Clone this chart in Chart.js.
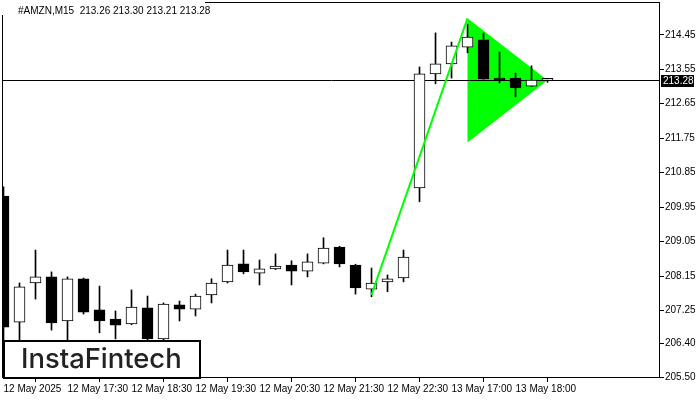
<!DOCTYPE html>
<html>
<head>
<meta charset="utf-8">
<script src="https://cdn.jsdelivr.net/npm/chart.js@4.4.1/dist/chart.umd.min.js"></script>
<style>
  html, body { margin: 0; padding: 0; background: #fff; }
</style>
</head>
<body>
<canvas id="chart" width="700" height="400"></canvas>
<script>
// header
var symbolTitle = '#AMZN,M15  213.26 213.30 213.21 213.28';

// time axis labels, one every 4 bars
var timeLabels = ['12 May 2025', '12 May 17:30', '12 May 18:30', '12 May 19:30', '12 May 20:30',
    '12 May 21:30', '12 May 22:30', '13 May 17:00', '13 May 18:00'];

// price axis ticks
var priceTicks = [205.50, 206.40, 207.25, 208.15, 209.05, 209.95, 210.85, 211.75, 212.65, 213.55, 214.45];

// M15 candles
var opens = [210.24, 206.95, 207.97, 208.13, 206.98, 208.08, 207.27, 207.03, 206.90, 207.32,
    206.51, 207.40, 207.29, 207.66, 208.00, 208.47, 208.23, 208.34, 208.44, 208.28,
    208.49, 208.91, 208.44, 207.81, 208.00, 208.10, 210.45, 213.43, 213.69, 214.13,
    214.32, 213.28, 213.32, 213.11, 213.26];
var highs = [210.48, 207.97, 208.83, 208.26, 208.13, 208.10, 207.89, 207.24, 207.79, 207.63,
    207.45, 207.50, 207.68, 208.08, 208.83, 208.83, 208.57, 208.73, 208.55, 208.73,
    209.15, 208.93, 208.46, 208.36, 208.18, 208.83, 213.61, 214.50, 214.26, 214.73,
    214.50, 214.00, 213.45, 213.64, 213.30];
var lows = [206.25, 206.35, 207.55, 206.74, 206.35, 207.16, 206.67, 206.51, 206.88, 206.35,
    206.35, 206.98, 207.11, 207.45, 207.97, 208.21, 207.92, 208.32, 207.92, 208.13,
    208.47, 208.39, 207.68, 207.61, 207.74, 208.00, 210.09, 213.17, 213.32, 213.98,
    213.29, 213.19, 212.83, 213.10, 213.21];
var closes = [206.82, 207.87, 208.13, 206.93, 208.08, 207.21, 206.98, 206.87, 207.34, 206.51,
    207.42, 207.29, 207.63, 207.97, 208.44, 208.26, 208.34, 208.41, 208.28, 208.52,
    208.88, 208.47, 207.84, 207.97, 208.08, 208.65, 213.43, 213.69, 214.16, 214.39,
    213.30, 213.27, 213.06, 213.27, 213.28];

// bullish pennant: pole and flag (bar index, price)
var poleBars = [23, 29];
var polePrices = [207.66, 214.88];
var flagBars = [29, 34, 29, 29];
var flagPrices = [214.88, 213.26, 211.64, 214.88];

var lastPrice = closes[closes.length - 1];

var bars = opens.map(function (o, i) { return i; });

var wickData = bars.map(function (i) { return { x: i, y: [lows[i], highs[i]] }; });
var bodyData = bars.map(function (i) { return { x: i, y: [opens[i], closes[i]] }; });
var bodyColors = bars.map(function (i) { return closes[i] >= opens[i] ? '#ffffff' : '#000000'; });

var FONT = 'Liberation Sans, Arial, sans-serif';

var mtPlugin = {
    id: 'mt',
    afterDatasetDraw: function (chart, args) {
        // price line sits above the flag but under the candles
        if (args.index !== 3) return;
        var ctx = chart.ctx, a = chart.chartArea;
        var py = Math.round(chart.scales.y.getPixelForValue(lastPrice)) + 0.5;
        ctx.save();
        ctx.strokeStyle = '#000';
        ctx.lineWidth = 1;
        ctx.beginPath();
        ctx.moveTo(a.left, py);
        ctx.lineTo(a.right, py);
        ctx.stroke();
        ctx.restore();
    },
    afterDraw: function (chart) {
        var ctx = chart.ctx, a = chart.chartArea;
        ctx.save();
        // frame
        ctx.strokeStyle = '#000';
        ctx.lineWidth = 1;
        ctx.strokeRect(a.left - 0.5, a.top - 0.5, a.right - a.left, a.bottom - a.top);

        // header text on its own white background
        ctx.fillStyle = '#fff';
        ctx.fillRect(0, 0, 205, 15);
        ctx.fillStyle = '#000';
        ctx.font = '10px ' + FONT;
        ctx.textBaseline = 'middle';
        ctx.textAlign = 'left';
        ctx.fillText(symbolTitle, 18, 11);

        // last price tag
        var py = Math.round(chart.scales.y.getPixelForValue(lastPrice));
        ctx.fillStyle = '#000';
        ctx.fillRect(a.right + 1, py - 5, 33, 12);
        ctx.fillStyle = '#fff';
        ctx.fillText(lastPrice.toFixed(2), a.right + 3, py + 1);

        // logo box
        ctx.fillStyle = '#fff';
        ctx.fillRect(3, 340, 198, 38);
        ctx.lineWidth = 2;
        ctx.strokeStyle = '#000';
        ctx.strokeRect(4, 341, 196, 37);
        ctx.fillStyle = '#222';
        ctx.font = '500 26px Inter, sans-serif';
        var w = ctx.measureText('InstaFintech').width;
        var size = 26 * 161 / w;
        ctx.font = '500 ' + size.toFixed(1) + 'px Inter, sans-serif';
        ctx.textBaseline = 'alphabetic';
        ctx.fillText('InstaFintech', 21, 368);
        ctx.restore();
    }
};

var ctx = document.getElementById('chart').getContext('2d');
new Chart(ctx, {
    type: 'bar',
    data: {
        datasets: [
            {
                type: 'line', label: 'pole',
                data: poleBars.map(function (b, i) { return { x: b, y: polePrices[i] }; }),
                borderColor: '#00ff00', borderWidth: 2, pointRadius: 0, fill: false, order: 0
            },
            {
                label: 'body', data: bodyData,
                backgroundColor: bodyColors, borderColor: '#000', borderWidth: 1,
                borderSkipped: false, barThickness: 11, minBarLength: 2, grouped: false, order: 1
            },
            {
                label: 'wick', data: wickData,
                backgroundColor: '#000', borderWidth: 0, barThickness: 1, grouped: false, order: 2
            },
            {
                type: 'line', label: 'flag',
                data: flagBars.map(function (b, i) { return { x: b, y: flagPrices[i] }; }),
                borderWidth: 0, borderColor: 'rgba(0,0,0,0)', backgroundColor: '#00ff00',
                pointRadius: 0, fill: 'shape', tension: 0, order: 3
            }
        ]
    },
    options: {
        responsive: false,
        animation: false,
        layout: { padding: { top: 3, left: 3, right: 0, bottom: 0 } },
        plugins: { legend: { display: false }, tooltip: { enabled: false } },
        scales: {
            x: {
                type: 'linear', min: -0.03125, max: 41.03, offset: false,
                afterFit: function (s) { s.height = 22; s.paddingLeft = 0; s.paddingRight = 0; },
                afterBuildTicks: function (s) { s.ticks = timeLabels.map(function (t, i) { return { value: i * 4 }; }); },
                grid: { drawOnChartArea: false, drawTicks: true, tickLength: 4, color: '#000' },
                border: { display: false },
                ticks: {
                    autoSkip: false, maxRotation: 0, align: 'start', padding: 1, color: '#000',
                    font: { family: FONT, size: 10 },
                    callback: function (v) { return timeLabels[Math.round(v / 4)]; }
                }
            },
            y: {
                position: 'right', min: 205.49, max: 215.28,
                afterFit: function (s) { s.width = 40; s.paddingTop = 0; s.paddingBottom = 0; },
                afterBuildTicks: function (s) { s.ticks = priceTicks.map(function (v) { return { value: v }; }); },
                grid: { drawOnChartArea: false, drawTicks: true, tickLength: 4, color: '#000' },
                border: { display: false },
                ticks: {
                    padding: 1, color: '#000', font: { family: FONT, size: 10 },
                    callback: function (v) { return v.toFixed(2); }
                }
            }
        }
    },
    plugins: [mtPlugin]
});
</script>
</body>
</html>
